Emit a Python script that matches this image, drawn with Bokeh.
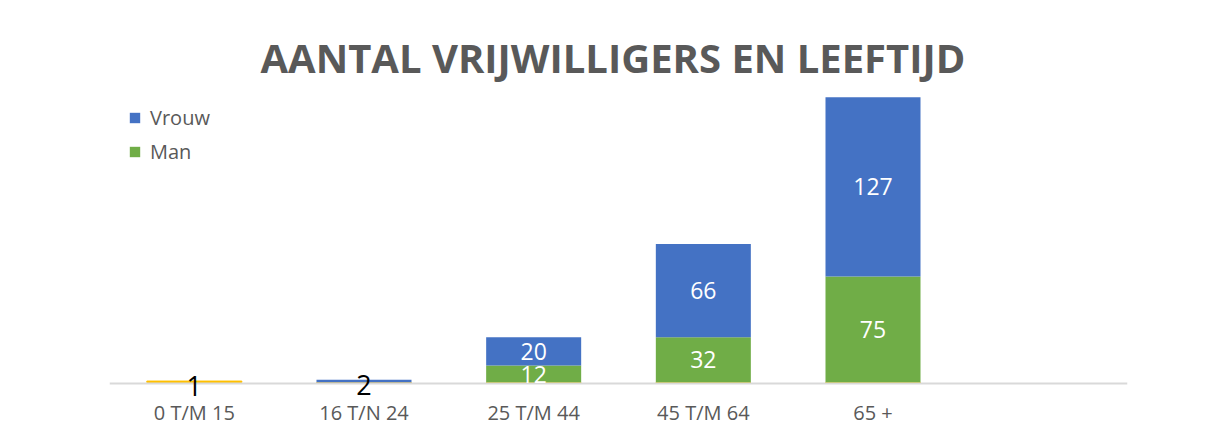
from bokeh.plotting import figure
from bokeh.models import ColumnDataSource, FactorRange, Range1d, Legend, LegendItem, LabelSet, Label
from bokeh.core.properties import value
from bokeh.embed import file_html
from bokeh.resources import INLINE

# ---- data ----
categories = ["0 T/M 15", "16 T/N 24", "25 T/M 44", "45 T/M 64", "65 +"]
man = [0, 0, 12, 32, 75]
vrouw = [0, 2, 20, 66, 127]
overig = [1, 0, 0, 0, 0]

title_text = "AANTAL VRIJWILLIGERS EN LEEFTIJD"

BLUE = "#4472C4"
GREEN = "#70AD47"
YELLOW = "#FFC000"
GREY = "#595959"

factors = categories + [" "]

src = ColumnDataSource(dict(cat=categories, man=man, vrouw=vrouw, overig=overig))

p = figure(x_range=FactorRange(factors=factors), y_range=Range1d(-32.6, 250),
           width=1203, height=428, output_backend="svg", toolbar_location=None,
           min_border_left=109, min_border_right=76, min_border_top=29, min_border_bottom=0)

rs = p.vbar_stack(["overig", "man", "vrouw"], x="cat", width=0.56,
                  color=[YELLOW, GREEN, BLUE], line_color=None, source=src)
r_over, r_man, r_vrouw = rs
r_over.glyph.line_color = YELLOW
r_over.glyph.line_width = 1

legend = Legend(items=[LegendItem(label="Vrouw", renderers=[r_vrouw]),
                       LegendItem(label="Man", renderers=[r_man])],
                orientation="vertical",
                border_line_color=None, background_fill_alpha=0,
                padding=0, margin=0, spacing=7,
                glyph_width=13, glyph_height=13, label_height=20,
                label_standoff=9, label_text_font="Open Sans",
                label_text_font_size="20px", label_text_color=GREY)
legend.location = (19, 263)
p.add_layout(legend)

# white labels inside segments
wx, wy, wt = [], [], []
for c, m, v in zip(categories, man, vrouw):
    if m >= 5:
        wx.append(c); wy.append(m / 2); wt.append(str(m))
    if v >= 5:
        wx.append(c); wy.append(m + v / 2); wt.append(str(v))
wsrc = ColumnDataSource(dict(x=wx, y=wy, t=wt))
p.add_layout(LabelSet(x="x", y="y", text="t", source=wsrc, text_align="center",
                      text_baseline="middle", text_color="white",
                      text_font=value("Open Sans"), text_font_size="23px"))

# black labels for tiny bars
bx, by, bt = [], [], []
for c, m, v, o in zip(categories, man, vrouw, overig):
    tot = m + v + o
    if tot < 5:
        bx.append(c); by.append(tot / 2); bt.append(str(tot))
bsrc = ColumnDataSource(dict(x=bx, y=by, t=bt))
p.add_layout(LabelSet(x="x", y="y", text="t", source=bsrc, text_align="center",
                      text_baseline="middle", text_color="black", y_offset=-4,
                      text_font=value("Open Sans"), text_font_size="27px"))

p.add_layout(Label(x=2.967, y=230, text=title_text, text_align="center",
                   text_baseline="middle", text_color=GREY, text_font="Open Sans",
                   text_font_style="bold", text_font_size="40px"))

p.yaxis.visible = False
p.xgrid.grid_line_color = None
p.ygrid.grid_line_color = None
p.outline_line_color = None
p.xaxis.fixed_location = -0.75
p.xaxis.axis_line_color = "#d9d9d9"
p.xaxis.axis_line_width = 2
p.xaxis.major_tick_line_color = None
p.xaxis.minor_tick_line_color = None
p.xaxis.major_label_text_font = "Open Sans"
p.xaxis.major_label_text_font_size = "20px"
p.xaxis.major_label_text_color = GREY
p.xaxis.major_label_standoff = 9

open("out.html", "w").write(file_html(p, INLINE))
